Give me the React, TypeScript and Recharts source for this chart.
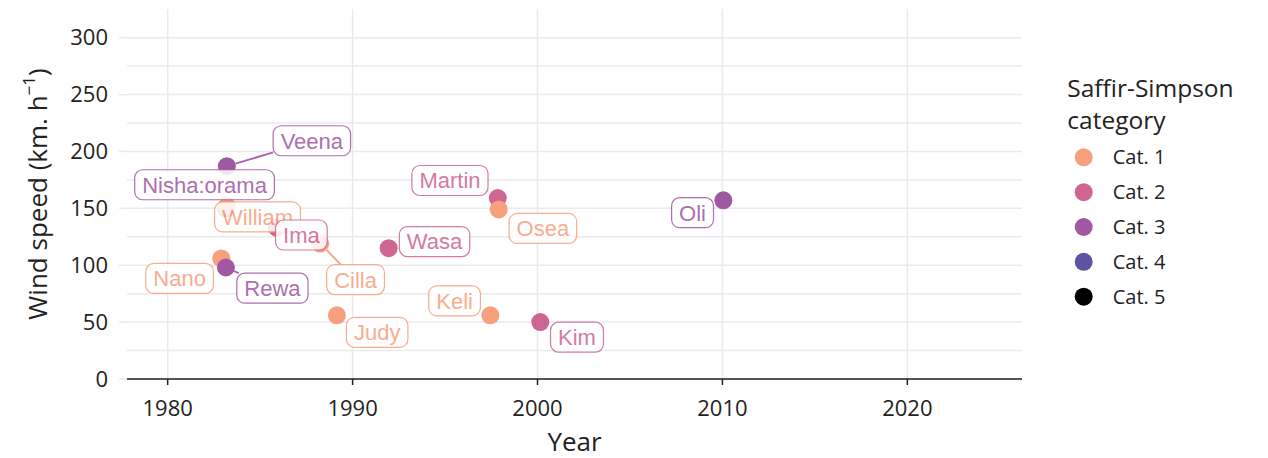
import React from 'react';
import { ScatterChart, Scatter, XAxis, YAxis, CartesianGrid, Legend } from 'recharts';

// ---- data ----
const NAMES = ['Veena', 'Nisha:orama', 'William', 'Nano', 'Rewa', 'Ima', 'Cilla', 'Judy', 'Wasa', 'Martin', 'Osea', 'Keli', 'Kim', 'Oli'];
const YEARS = [1983.2, 1983.15, 1983.2, 1982.9, 1983.15, 1985.9, 1988.25, 1989.15, 1991.95, 1997.85, 1997.9, 1997.45, 2000.15, 2010.05];
const SPEEDS = [187, 150, 152, 106, 98, 133, 119, 56, 115, 159, 149, 56, 50, 157];
const CATS = [3, 3, 1, 1, 3, 2, 1, 1, 2, 2, 1, 1, 2, 3];

const CATEGORY_LABELS = ['Cat. 1', 'Cat. 2', 'Cat. 3', 'Cat. 4', 'Cat. 5'];
const LEGEND_TITLE = ['Saffir-Simpson', 'category'];
const X_TICKS = [1980, 1990, 2000, 2010, 2020];
const Y_TICKS = [0, 50, 100, 150, 200, 250, 300];
const Y_GRID = [0, 25, 50, 75, 100, 125, 150, 175, 200, 225, 250, 275, 300];

// ---- styles / layout ----
const CAT_COLORS = ['#F8A07E', '#CE6693', '#A059A0', '#5C53A5', '#000000'];
// repelled label offsets (pixels, label centre relative to point) and whether a segment is drawn
const LABEL_OFFSETS: [number, number, boolean][] = [
  [85, -25.5, true],
  [-21.4, -23.6, false],
  [30.7, 10.9, false],
  [-41.7, 20, false],
  [46.5, 20.7, true],
  [24.6, 7.3, false],
  [35.3, 36, true],
  [40.3, 17, false],
  [45.9, -6.6, false],
  [-47.8, -17.6, false],
  [44.2, 19, false],
  [-35.8, -14.5, false],
  [36.7, 15, false],
  [-30.8, 12.3, false],
];

const GRID = '#E9EAEE';
const INK = '#222222';
const AXIS_FONT = "'Open Sans', 'Noto Sans', sans-serif";
const LABEL_FONT = "'Liberation Sans', Arial, sans-serif";
const LABEL_SIZE = 22;
const POINT_R = 9;

const rows = NAMES.map((name, i) => ({ name, year: YEARS[i], speed: SPEEDS[i], cat: CATS[i], idx: i }));

let ctx: CanvasRenderingContext2D | null = null;
function textWidth(t: string): number {
  try {
    if (!ctx) ctx = document.createElement('canvas').getContext('2d');
    if (ctx) {
      ctx.font = `${LABEL_SIZE}px ${LABEL_FONT}`;
      return ctx.measureText(t).width;
    }
  } catch (e) {}
  return t.length * LABEL_SIZE * 0.55;
}

function labelBox(p: any) {
  const [dx, dy] = LABEL_OFFSETS[p.payload.idx];
  const w = textWidth(p.payload.name) + 15;
  const h = 30;
  return { lx: p.cx + dx, ly: p.cy + dy, w, h };
}

const PointShape = (p: any) => (
  <circle cx={p.cx} cy={p.cy} r={POINT_R} fill={CAT_COLORS[p.payload.cat - 1]} />
);

const SegmentShape = (p: any) => {
  const seg = LABEL_OFFSETS[p.payload.idx][2];
  if (!seg) return <g />;
  const { lx, ly, w, h } = labelBox(p);
  const vx = p.cx - lx;
  const vy = p.cy - ly;
  const s = Math.min(Math.abs(vx) > 0 ? (w / 2) / Math.abs(vx) : Infinity, Math.abs(vy) > 0 ? (h / 2) / Math.abs(vy) : Infinity);
  const ex = lx + s * vx;
  const ey = ly + s * vy;
  const len = Math.hypot(vx, vy);
  const sx = p.cx - (vx / len) * POINT_R;
  const sy = p.cy - (vy / len) * POINT_R;
  return (
    <line x1={sx} y1={sy} x2={ex} y2={ey} stroke={CAT_COLORS[p.payload.cat - 1]} strokeWidth={2} opacity={0.9} />
  );
};

const LabelShape = (p: any) => {
  const { lx, ly, w, h } = labelBox(p);
  const c = CAT_COLORS[p.payload.cat - 1];
  return (
    <g opacity={0.86}>
      <rect x={lx - w / 2} y={ly - h / 2} width={w} height={h} rx={8} ry={8} fill="#ffffff" stroke={c} strokeWidth={1.2} />
      <text x={lx} y={ly + 7.9} textAnchor="middle" fontFamily={LABEL_FONT} fontSize={LABEL_SIZE} fill={c}>
        {p.payload.name}
      </text>
    </g>
  );
};

const YTitle = (props: any) => {
  const vb = props.viewBox || { x: 59, y: 1, width: 60, height: 370 };
  const x = vb.x - 20.3;
  const y = vb.y + vb.height / 2;
  return (
    <text transform={`translate(${x}, ${y}) rotate(-90)`} textAnchor="middle" fontFamily={AXIS_FONT} fontSize={26} fill={INK}>
      Wind speed (km. h
      <tspan dy={-12} fontSize={17}>−1</tspan>
      <tspan dy={12}>)</tspan>
    </text>
  );
};

const XTitle = (props: any) => {
  const vb = props.viewBox || { x: 119, y: 371, width: 894.7, height: 40 };
  return (
    <text x={vb.x + vb.width / 2} y={443} textAnchor="middle" fontFamily={AXIS_FONT} fontSize={26} fill={INK}>
      Year
    </text>
  );
};

const LegendContent = () => (
  <svg width={200} height={250} style={{ display: 'block' }}>
    <text x={7.3} y={27} fontFamily={AXIS_FONT} fontSize={24.5} fill={INK}>{LEGEND_TITLE[0]}</text>
    <text x={7.3} y={58.5} fontFamily={AXIS_FONT} fontSize={24.5} fill={INK}>{LEGEND_TITLE[1]}</text>
    {CATEGORY_LABELS.map((lab, i) => {
      const cy = 87.3 + i * 34.85;
      return (
        <g key={lab}>
          <circle cx={23.7} cy={cy} r={POINT_R} fill={CAT_COLORS[i]} />
          <text x={52.7} y={cy + 7.1} fontFamily={AXIS_FONT} fontSize={20} fill={INK}>{lab}</text>
        </g>
      );
    })}
  </svg>
);

export default function App() {
  return (
    <div style={{ width: 1260, height: 450 }}>
      <ScatterChart width={1260} height={450} margin={{ top: 1, right: 246, left: 59, bottom: 39 }}>
        <CartesianGrid stroke={GRID} strokeWidth={1.5} horizontalValues={Y_GRID} verticalValues={X_TICKS} />
        <XAxis
          type="number"
          dataKey="year"
          domain={[1977.8, 2026.2]}
          ticks={X_TICKS}
          allowDataOverflow
          height={40}
          axisLine={{ stroke: INK, strokeWidth: 1.5 }}
          tickLine={{ stroke: INK, strokeWidth: 1.5 }}
          tickSize={6}
          tickMargin={15}
          tick={{ fontFamily: AXIS_FONT, fontSize: 22, fill: INK }}
          label={XTitle}
        />
        <YAxis
          type="number"
          dataKey="speed"
          domain={[0, 325.2]}
          ticks={Y_TICKS}
          allowDataOverflow
          width={60}
          axisLine={false}
          tickLine={{ stroke: GRID, strokeWidth: 1.5 }}
          tickSize={8}
          tickMargin={11}
          tick={{ fontFamily: AXIS_FONT, fontSize: 22, fill: INK }}
          label={YTitle}
        />
        <Legend
          layout="vertical"
          align="center"
          verticalAlign="middle"
          wrapperStyle={{ left: 1052, top: 62, width: 200, height: 250 }}
          content={LegendContent}
        />
        <Scatter data={rows} shape={PointShape} isAnimationActive={false} legendType="none" />
        <Scatter data={rows} shape={SegmentShape} isAnimationActive={false} legendType="none" />
        <Scatter data={rows} shape={LabelShape} isAnimationActive={false} legendType="none" />
      </ScatterChart>
    </div>
  );
}
